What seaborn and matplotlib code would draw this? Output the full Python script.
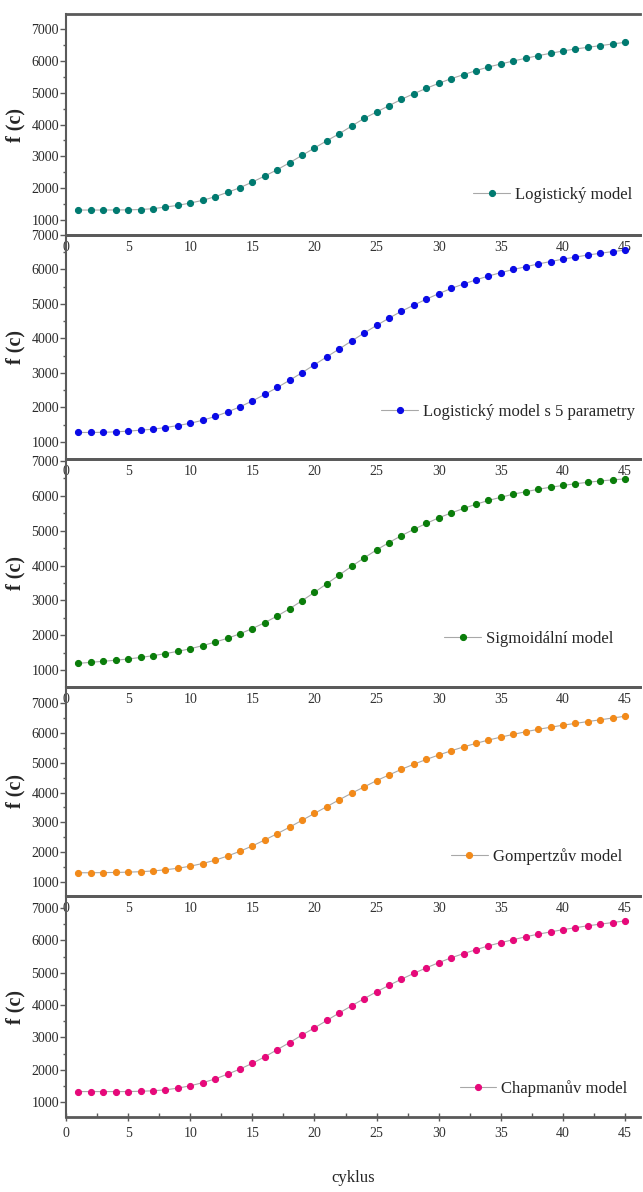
#!/usr/bin/env python
# coding: utf-8
# five fitted growth models, stacked panels

import numpy as np
import pandas as pd
import matplotlib
import matplotlib.pyplot as plt
import seaborn as sns

sns.set_style("white")
matplotlib.rcParams['font.family'] = ["Liberation Serif", "DejaVu Serif"]

#%% data

cyklus = list(range(1, 46))

modelNames = ["Logistický model", "Logistický model s 5 parametry",
              "Sigmoidální model", "Gompertzův model", "Chapmanův model"]

logistic = [1314, 1314, 1314, 1316, 1320, 1330, 1356, 1408, 1461, 1534,
            1618, 1733, 1869, 2016, 2194, 2382, 2581, 2801, 3031, 3262,
            3492, 3712, 3953, 4194, 4393, 4592, 4791, 4969, 5136, 5293,
            5440, 5565, 5691, 5806, 5901, 5995, 6079, 6162, 6236, 6309,
            6372, 6424, 6476, 6529, 6581]

logistic5 = [1276, 1276, 1280, 1295, 1314, 1343, 1371, 1419, 1476, 1543,
             1630, 1740, 1870, 2020, 2190, 2380, 2580, 2790, 3010, 3240,
             3470, 3700, 3930, 4160, 4380, 4590, 4790, 4970, 5140, 5300,
             5450, 5580, 5700, 5810, 5910, 6000, 6080, 6160, 6230, 6300,
             6360, 6420, 6470, 6520, 6560]

sigmoid = [1190, 1220, 1250, 1280, 1315, 1360, 1410, 1470, 1535, 1610,
           1700, 1800, 1910, 2040, 2190, 2360, 2550, 2760, 2990, 3230,
           3480, 3730, 3980, 4220, 4450, 4660, 4860, 5040, 5210, 5370,
           5510, 5640, 5760, 5870, 5960, 6050, 6120, 6190, 6250, 6300,
           6350, 6390, 6430, 6460, 6490]

gompertz = [1310, 1310, 1315, 1320, 1330, 1345, 1370, 1410, 1460, 1530,
            1620, 1730, 1870, 2030, 2210, 2410, 2620, 2840, 3070, 3300,
            3530, 3760, 3980, 4190, 4400, 4590, 4780, 4950, 5110, 5260,
            5400, 5530, 5650, 5760, 5860, 5950, 6040, 6120, 6190, 6260,
            6320, 6380, 6440, 6500, 6560]

chapman = [1326, 1326, 1326, 1326, 1326, 1335, 1350, 1379, 1432, 1505,
           1600, 1716, 1863, 2021, 2200, 2400, 2621, 2842, 3074, 3295,
           3526, 3758, 3979, 4200, 4410, 4610, 4800, 4980, 5150, 5310,
           5460, 5590, 5710, 5830, 5930, 6020, 6110, 6190, 6260, 6330,
           6390, 6450, 6500, 6550, 6600]

modelValues = [logistic, logistic5, sigmoid, gompertz, chapman]

#%% style per panel

colors = ["#007a70", "#0a0ae6", "#0a7d0a", "#f28a1a", "#e6097a"]
yLimits = [(530, 7470), (507, 7000), (511, 7060), (530, 7540), (540, 7370)]
heights = [221, 224, 228, 209, 221]
legendAnchors = [(0.998, 0.18), (1.003, 0.21), (0.965, 0.21), (0.98, 0.19), (0.99, 0.13)]
grey = "#5a5a5a"

fig, axes = plt.subplots(nrows=5, figsize=(6.43, 11.92), dpi=100,
                         gridspec_kw={"hspace": 0, "height_ratios": heights})
fig.subplots_adjust(left=66/643, right=640/643, top=1-14/1192, bottom=1-1117/1192)

for idx, ax in enumerate(axes):
    df = pd.DataFrame({"cyklus": cyklus, "f": modelValues[idx]})
    sns.lineplot(x="cyklus", y="f", data=df, ax=ax, color="#a8a8a8", lw=0.8,
                 marker="o", markersize=4.4, markerfacecolor=colors[idx],
                 markeredgecolor=colors[idx], label=modelNames[idx])
    ax.patch.set_visible(False)
    ax.set_xlim(0, 46.2)
    ax.set_ylim(*yLimits[idx])
    ax.set_yticks(np.arange(1000, 7001, 1000))
    ax.set_yticks(np.arange(1000, 7001, 500), minor=True)
    ax.set_xticks(np.arange(0, 46, 5))
    ax.tick_params(axis="y", which="major", direction="out", length=4, width=1,
                   color=grey, labelsize=10, pad=1, left=True, labelcolor="#2a2a2a")
    ax.tick_params(axis="y", which="minor", direction="out", length=2, width=1,
                   color=grey, left=True)
    ax.set_ylabel("f (c)", fontsize=14.5, fontweight="bold")
    ax.yaxis.set_label_coords(-0.07, 0.5)
    ax.set_xlabel("")
    for side in ["top", "bottom"]:
        ax.spines[side].set_color(grey)
        ax.spines[side].set_linewidth(2)
    ax.spines["left"].set_color(grey)
    ax.spines["left"].set_linewidth(1.5)
    ax.spines["right"].set_visible(False)
    if idx < 4:
        ax.tick_params(axis="x", length=0, labelsize=10, pad=4, labelcolor="#333333")
    else:
        ax.set_xticks(np.arange(0, 46, 2.5), minor=True)
        ax.tick_params(axis="x", which="major", direction="inout", length=6, width=1,
                       color=grey, labelsize=10, pad=4, bottom=True, labelcolor="#333333")
        ax.tick_params(axis="x", which="minor", direction="in", length=3, width=1,
                       color=grey, bottom=True)
        ax.set_xlabel("cyklus", fontsize=12, labelpad=22)
    ax.legend(loc="center right", bbox_to_anchor=legendAnchors[idx], frameon=False,
              fontsize=12, handlelength=2.2, handletextpad=0.3, borderaxespad=0)

plt.savefig("out.png", dpi=100)
